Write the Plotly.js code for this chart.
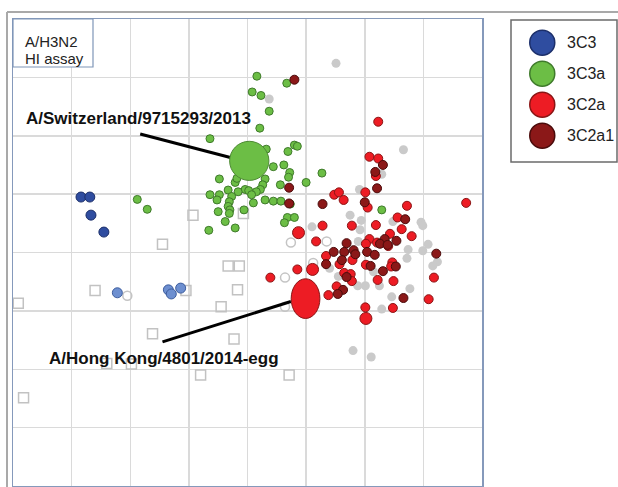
<!DOCTYPE html>
<html>
<head>
<meta charset="utf-8">
<script src="https://cdn.plot.ly/plotly-3.0.1.min.js"></script>
<style>html,body{margin:0;padding:0;background:#fff;}#chart{width:618px;height:487px;}</style>
</head>
<body>
<div id="chart"></div>
<script>
// ---------- DATA (antigenic map units; 1 grid square = 1 unit) ----------
const categories = ['3C3', '3C3a', '3C2a', '3C2a1'];

// 3C3 (dark blue)
const c3X = [1.16, 1.31, 1.33, 1.55];
const c3Y = [3.05, 3.05, 3.36, 3.65];
// 3C3 older (light blue)
const c3oldX = [1.78, 2.65, 2.70, 2.86];
const c3oldY = [4.69, 4.64, 4.71, 4.61];

// 3C3a (green)
const c3aX = [2.12, 2.29, 3.36, 3.34, 4.16, 4.67, 4.08, 4.23, 4.37, 4.21, 3.36, 4.80, 4.85, 4.69, 4.32,
  4.44, 4.62, 4.72, 4.70, 4.56, 5.00, 3.52, 3.79, 3.82, 4.30, 4.26, 4.22, 4.15, 3.96, 4.02, 3.84, 3.67,
  4.07, 3.52, 3.48, 3.73, 4.10, 4.30, 4.44, 4.57, 3.69, 3.67, 3.70, 3.69, 3.50, 3.94, 3.62, 3.79, 4.68,
  4.80, 4.63, 4.73, 5.27, 6.29];
const c3aY = [3.09, 3.26, 3.01, 3.62, 0.98, 1.10, 1.25, 1.31, 1.58, 1.87, 2.05, 2.16, 2.18, 2.27, 2.23,
  2.53, 2.50, 2.63, 2.71, 2.84, 2.80, 2.74, 2.80, 2.73, 2.74, 2.84, 2.92, 2.96, 2.92, 2.94, 2.96, 2.93,
  3.01, 3.01, 3.10, 3.04, 3.15, 3.10, 3.12, 3.12, 3.13, 3.21, 3.27, 3.33, 3.30, 3.27, 3.47, 3.58, 3.40,
  3.40, 3.49, 3.17, 2.64, 3.27];

// 3C2a (red)
const c2aX = [6.23, 6.08, 6.23, 6.19, 5.48, 5.56, 5.64, 6.01, 6.05, 6.72, 7.73, 6.56, 5.28, 5.78, 6.19,
  6.63, 6.80, 6.43, 6.08, 6.21, 6.02, 6.40, 5.17, 5.34, 5.79, 5.57, 6.02, 6.47, 6.45, 5.65, 5.76, 5.78,
  6.22, 6.49, 7.18, 5.52, 5.38, 7.09, 6.01, 6.48, 4.85, 4.39];
const c2aY = [1.76, 2.36, 2.39, 2.69, 3.01, 2.97, 3.10, 2.97, 3.23, 3.20, 3.15, 3.40, 3.54, 3.54, 3.53,
  3.60, 3.72, 3.68, 3.77, 3.83, 3.85, 3.89, 3.81, 4.06, 4.13, 4.20, 4.21, 4.17, 4.24, 4.35, 4.37, 4.49,
  4.47, 4.49, 4.43, 4.58, 4.73, 4.80, 4.94, 4.95, 4.29, 4.43];
// 3C2a, drawn a little larger
const c2aBigX = [4.87, 5.11, 6.02];
const c2aBigY = [3.66, 4.29, 5.13];

// 3C2a1 (dark red)
const c2a1X = [4.80, 4.71, 4.71, 6.31, 6.18, 6.21, 5.28, 6.00, 6.69, 6.34, 6.26, 6.39, 6.54, 5.69, 7.22,
  5.47, 5.65, 5.81, 5.84, 6.04, 6.17, 5.61, 5.34, 6.10, 6.53, 6.31, 5.69, 5.63, 5.54, 6.66];
const c2a1Y = [1.04, 2.89, 3.16, 2.50, 2.62, 2.90, 3.17, 3.14, 3.43, 3.77, 3.85, 3.87, 3.80, 3.84, 4.02,
  3.99, 3.99, 3.96, 4.03, 3.99, 4.04, 4.13, 4.20, 4.23, 4.24, 4.32, 4.42, 4.64, 4.71, 4.78];

// Other antigens (grey)
const greyX = [4.37, 5.51, 6.66, 6.29, 5.91, 5.75, 5.94, 6.48, 6.96, 6.99, 5.92, 5.10, 5.89, 7.08, 6.99,
  6.74, 6.72, 7.24, 7.16, 6.15, 5.55, 5.40, 5.88, 6.01, 6.25, 6.77, 6.46, 6.29, 5.80, 6.11];
const greyY = [1.37, 0.76, 2.24, 2.66, 2.92, 3.36, 3.45, 3.47, 3.48, 3.54, 3.61, 3.56, 3.81, 3.86, 3.97,
  3.95, 4.10, 4.16, 4.23, 4.33, 4.41, 4.27, 4.57, 4.57, 4.57, 4.62, 4.76, 4.97, 5.68, 5.79];
// Open circles
const openX = [1.95, 4.74, 5.35, 4.64, 4.64, 5.12];
const openY = [4.74, 3.83, 3.81, 4.43, 4.93, 4.18];
// Antisera (open squares)
const seraX = [3.07, 3.93, 2.55, 3.67, 3.86, 1.40, 3.83, 2.95, 0.09, 3.55, 2.38, 3.77, 2.02, 1.60, 3.20, 4.71, 0.18];
const seraY = [3.36, 3.33, 3.86, 4.23, 4.23, 4.65, 4.64, 4.65, 4.87, 4.93, 5.39, 5.48, 5.91, 5.90, 6.10, 6.10, 6.49];

// Vaccine / reference antigens
const refNames = ['A/Switzerland/9715293/2013', 'A/Hong Kong/4801/2014-egg'];
const refX = [4.03, 4.99];
const refY = [2.43, 4.79];
const refW = [0.67, 0.49];
const refH = [0.67, 0.68];

// ---------- STYLE ----------
const FONT = 'Liberation Sans, Arial, Helvetica, sans-serif';
const catFill = ['#2F4DA0', '#6CBE45', '#ED1C24', '#8B1818'];
const catLine = ['#1C2F6A', '#3F7A2B', '#8A1515', '#4A0B0B'];
const refFill = [catFill[1], catFill[2]];
const refLine = ['#4E8A35', '#8A1515'];
// label placement (map units)
const labelPos = [[2.14, 1.71], [2.57, 5.81]];
const leader = [[2.17, 1.97, 3.74, 2.38], [2.55, 5.53, 4.74, 4.84]];

const W = 618, H = 487;
const px = v => v / W, py = v => 1 - v / H;

function pts(x, y, color, line, size, symbol, lw) {
  return {
    type: 'scatter', mode: 'markers', x: x, y: y, xaxis: 'x', yaxis: 'y', hoverinfo: 'skip',
    marker: { color: color, size: size, symbol: symbol || 'circle', line: { color: line, width: lw === undefined ? 1 : lw } }
  };
}

const traces = [
  pts(seraX, seraY, '#C2C2C2', '#C2C2C2', 10, 'square-open', 1.5),
  pts(openX, openY, '#C4C4C4', '#C4C4C4', 9, 'circle-open', 1.5),
  pts(greyX, greyY, '#CACACA', '#CACACA', 9, 'circle', 0),
  pts(c3oldX, c3oldY, '#6D8FD0', '#3E5E9E', 10),
  pts(c3X, c3Y, catFill[0], catLine[0], 10),
  pts(c3aX, c3aY, catFill[1], catLine[1], 8),
  pts(c2aX, c2aY, catFill[2], catLine[2], 9),
  pts(c2aBigX, c2aBigY, catFill[2], catLine[2], 12),
  pts(c2a1X, c2a1Y, catFill[3], catLine[3], 9),
  // custom legend
  {
    type: 'scatter', mode: 'markers', xaxis: 'x2', yaxis: 'y2', hoverinfo: 'skip',
    x: categories.map(() => 0.295), y: categories.map((c, i) => i + 1),
    marker: { size: 25, color: catFill, line: { color: catLine, width: 1.5 } }
  }
];

const shapes = [
  // outer frame
  { type: 'line', xref: 'paper', yref: 'paper', x0: px(7), x1: 1, y0: py(12), y1: py(12), line: { color: '#A9A9A9', width: 2 } },
  { type: 'line', xref: 'paper', yref: 'paper', x0: px(7), x1: px(7), y0: py(12), y1: 0, line: { color: '#A9A9A9', width: 2 } },
  // info box
  { type: 'rect', xref: 'paper', yref: 'paper', x0: px(13), x1: px(93), y0: py(67), y1: py(19), fillcolor: '#FFFFFF', line: { color: '#7F96B8', width: 1.2 }, layer: 'above' },
  // legend box
  { type: 'rect', xref: 'paper', yref: 'paper', x0: px(511), x1: px(617), y0: py(162), y1: py(20), line: { color: '#6B6B6B', width: 1.5 }, layer: 'below' }
];
refNames.forEach((n, i) => {
  shapes.push({ type: 'line', xref: 'x', yref: 'y', x0: leader[i][0], y0: leader[i][1], x1: leader[i][2], y1: leader[i][3],
    line: { color: '#000000', width: 3 }, layer: 'above' });
});
refNames.forEach((n, i) => {
  shapes.push({ type: 'circle', xref: 'x', yref: 'y',
    x0: refX[i] - refW[i] / 2, x1: refX[i] + refW[i] / 2, y0: refY[i] - refH[i] / 2, y1: refY[i] + refH[i] / 2,
    fillcolor: refFill[i], line: { color: refLine[i], width: 1 }, layer: 'above' });
});

const annotations = [];
refNames.forEach((n, i) => {
  annotations.push({ xref: 'x', yref: 'y', x: labelPos[i][0], y: labelPos[i][1], text: '<b>' + n + '</b>',
    showarrow: false, xanchor: 'center', yanchor: 'middle', font: { family: FONT, size: 17, color: '#111111' } });
});
annotations.push({ xref: 'paper', yref: 'paper', x: px(23), y: py(41.5), text: 'A/H3N2', showarrow: false,
  xanchor: 'left', yanchor: 'middle', font: { family: FONT, size: 15, color: '#222222' } });
annotations.push({ xref: 'paper', yref: 'paper', x: px(23), y: py(58.5), text: 'HI assay', showarrow: false,
  xanchor: 'left', yanchor: 'middle', font: { family: FONT, size: 15, color: '#222222' } });
categories.forEach((c, i) => {
  annotations.push({ xref: 'x2', yref: 'y2', x: 0.51, y: i + 1, text: c, showarrow: false,
    xanchor: 'left', yanchor: 'middle', font: { family: FONT, size: 16, color: '#222222' } });
});

const axisCommon = {
  dtick: 1, tick0: 0, showgrid: true, gridcolor: '#DADADA', gridwidth: 1.5, zeroline: false,
  showticklabels: false, ticks: '', showline: true, mirror: true, linecolor: '#8599BB', linewidth: 1.5, fixedrange: true
};

const layout = {
  width: W, height: H, margin: { l: 0, r: 0, t: 0, b: 0 },
  paper_bgcolor: '#FFFFFF', plot_bgcolor: '#FFFFFF', showlegend: false,
  font: { family: FONT },
  xaxis: Object.assign({}, axisCommon, { domain: [px(13), px(482)], range: [0, 8] }),
  yaxis: Object.assign({}, axisCommon, { domain: [py(486), py(19)], range: [8, 0] }),
  xaxis2: { domain: [px(511), px(617)], range: [0, 1], anchor: 'y2', visible: false, fixedrange: true },
  yaxis2: { domain: [py(162), py(20)], range: [4.85, 0.27], anchor: 'x2', visible: false, fixedrange: true },
  shapes: shapes, annotations: annotations
};

Plotly.newPlot('chart', traces, layout, { staticPlot: true, displayModeBar: false });
</script>
</body>
</html>
